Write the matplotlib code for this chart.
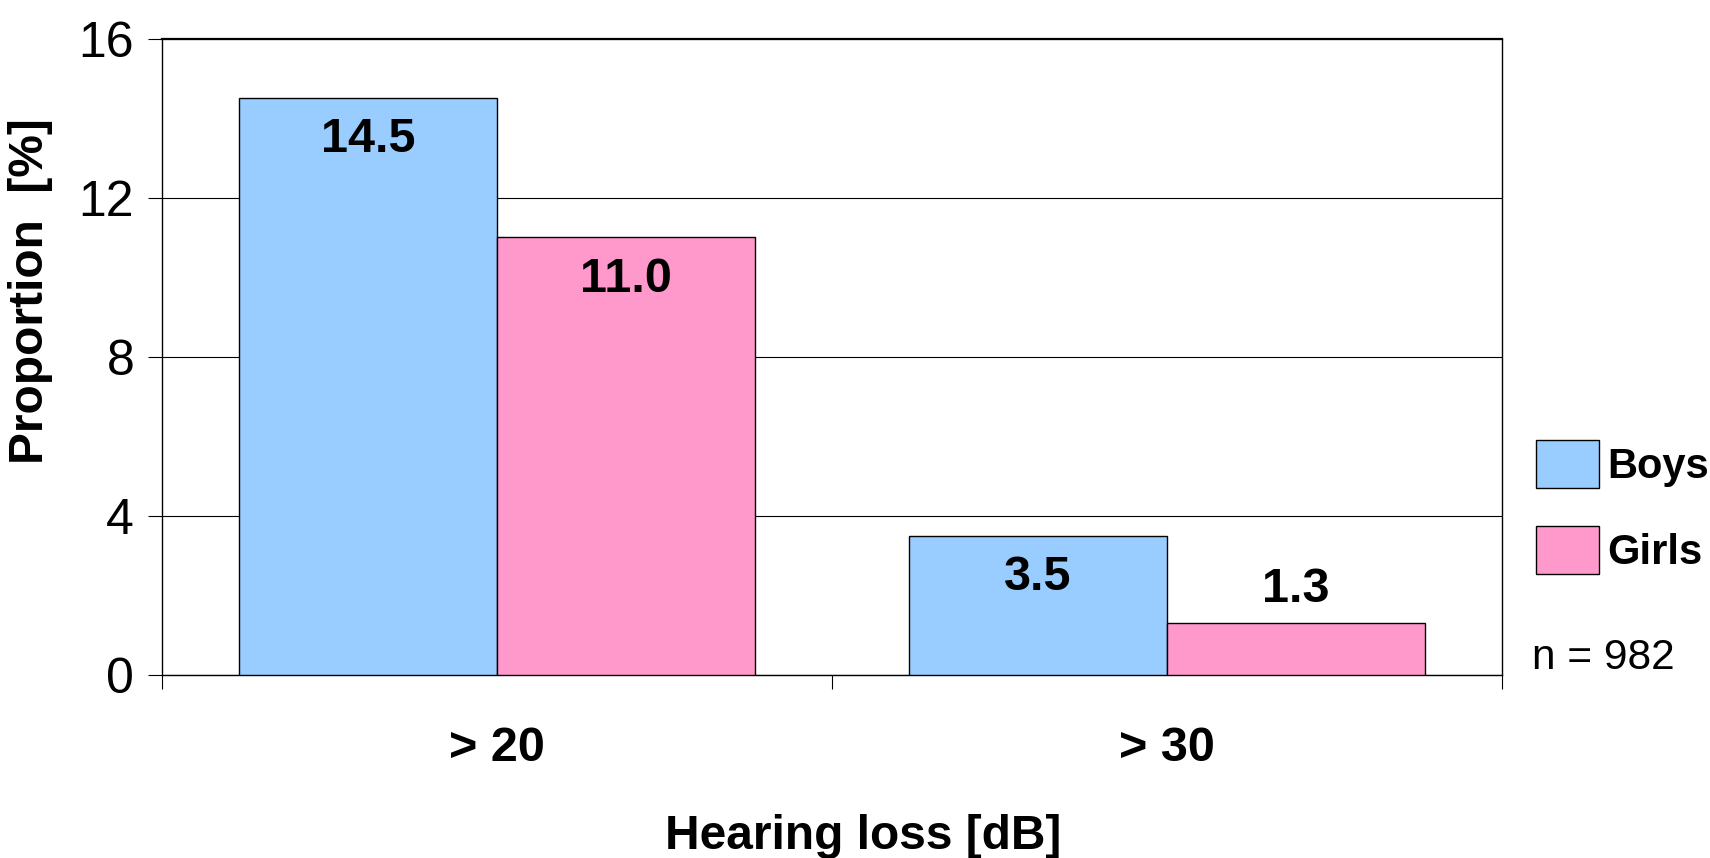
import matplotlib
matplotlib.use("Agg")
import matplotlib.pyplot as plt
import numpy as np

plt.rcParams['font.family'] = ['Liberation Sans', 'DejaVu Sans']

categories = ['> 20', '> 30']
boys = [14.5, 3.5]
girls = [11.0, 1.3]
series_names = ['Boys', 'Girls']
colors = ['#99CCFF', '#FF99CC']
yticks = [0, 4, 8, 12, 16]

fig = plt.figure(figsize=(17.1, 8.58), dpi=100)
ax = fig.add_axes([0.0947, 0.2133, 0.7837, 0.7418])

x = np.arange(len(categories))
w = 0.385
b1 = ax.bar(x - w, boys, w, align='edge', color=colors[0], edgecolor='black', linewidth=1, label=series_names[0], zorder=3)
b2 = ax.bar(x, girls, w, align='edge', color=colors[1], edgecolor='black', linewidth=1, label=series_names[1], zorder=3)

for bars, vals in [(b1, boys), (b2, girls)]:
    for r, v in zip(bars, vals):
        cx = r.get_x() + r.get_width() / 2
        # small bars get the label above, others inside near the top
        off = -30 if v > 2 else 24
        ax.annotate(f'{v:.1f}', (cx, v), xytext=(0, off), textcoords='offset points',
                    ha='center', va='center', fontsize=35, fontweight='bold')

ax.set_xlim(-0.5, 1.5)
ax.set_ylim(0, 16)
ax.set_yticks(yticks)
ax.set_yticklabels([str(t) for t in yticks], fontsize=36)
ax.yaxis.grid(True, color='black', linewidth=0.8)
ax.set_axisbelow(True)

ax.set_xticks(x)
ax.set_xticklabels(categories, fontsize=35, fontweight='bold')
ax.tick_params(axis='x', which='major', length=0, pad=37)
ax.set_xticks([-0.5, 0.5, 1.5], minor=True)
ax.tick_params(axis='x', which='minor', length=10, width=0.8, direction='out')
ax.tick_params(axis='y', length=10, width=0.8, direction='out', pad=10)

for s in ax.spines.values():
    s.set_color('black')
    s.set_linewidth(1)
ax.spines['top'].set_linewidth(1.6)

ax.set_ylabel('Proportion  [%]', fontsize=34.5, fontweight='bold')
ax.yaxis.set_label_coords(-0.081, 0.603)
ax.set_xlabel('Hearing loss [dB]', fontsize=34.5, fontweight='bold')
ax.xaxis.set_label_coords(0.523, -0.218)

fig.legend(handles=[b1, b2], labels=series_names, loc='upper left',
           bbox_to_anchor=(1536 / 1710, 1 - 440 / 858), frameon=False,
           prop={'size': 30, 'weight': 'bold'}, handlelength=1.5, handleheight=1.41,
           labelspacing=0.9, handletextpad=0.2, borderpad=0, borderaxespad=0)
fig.text(1532 / 1710, 1 - 658 / 858, 'n = 982', fontsize=30.5, va='center', ha='left')

fig.savefig('out.png', dpi=100)
